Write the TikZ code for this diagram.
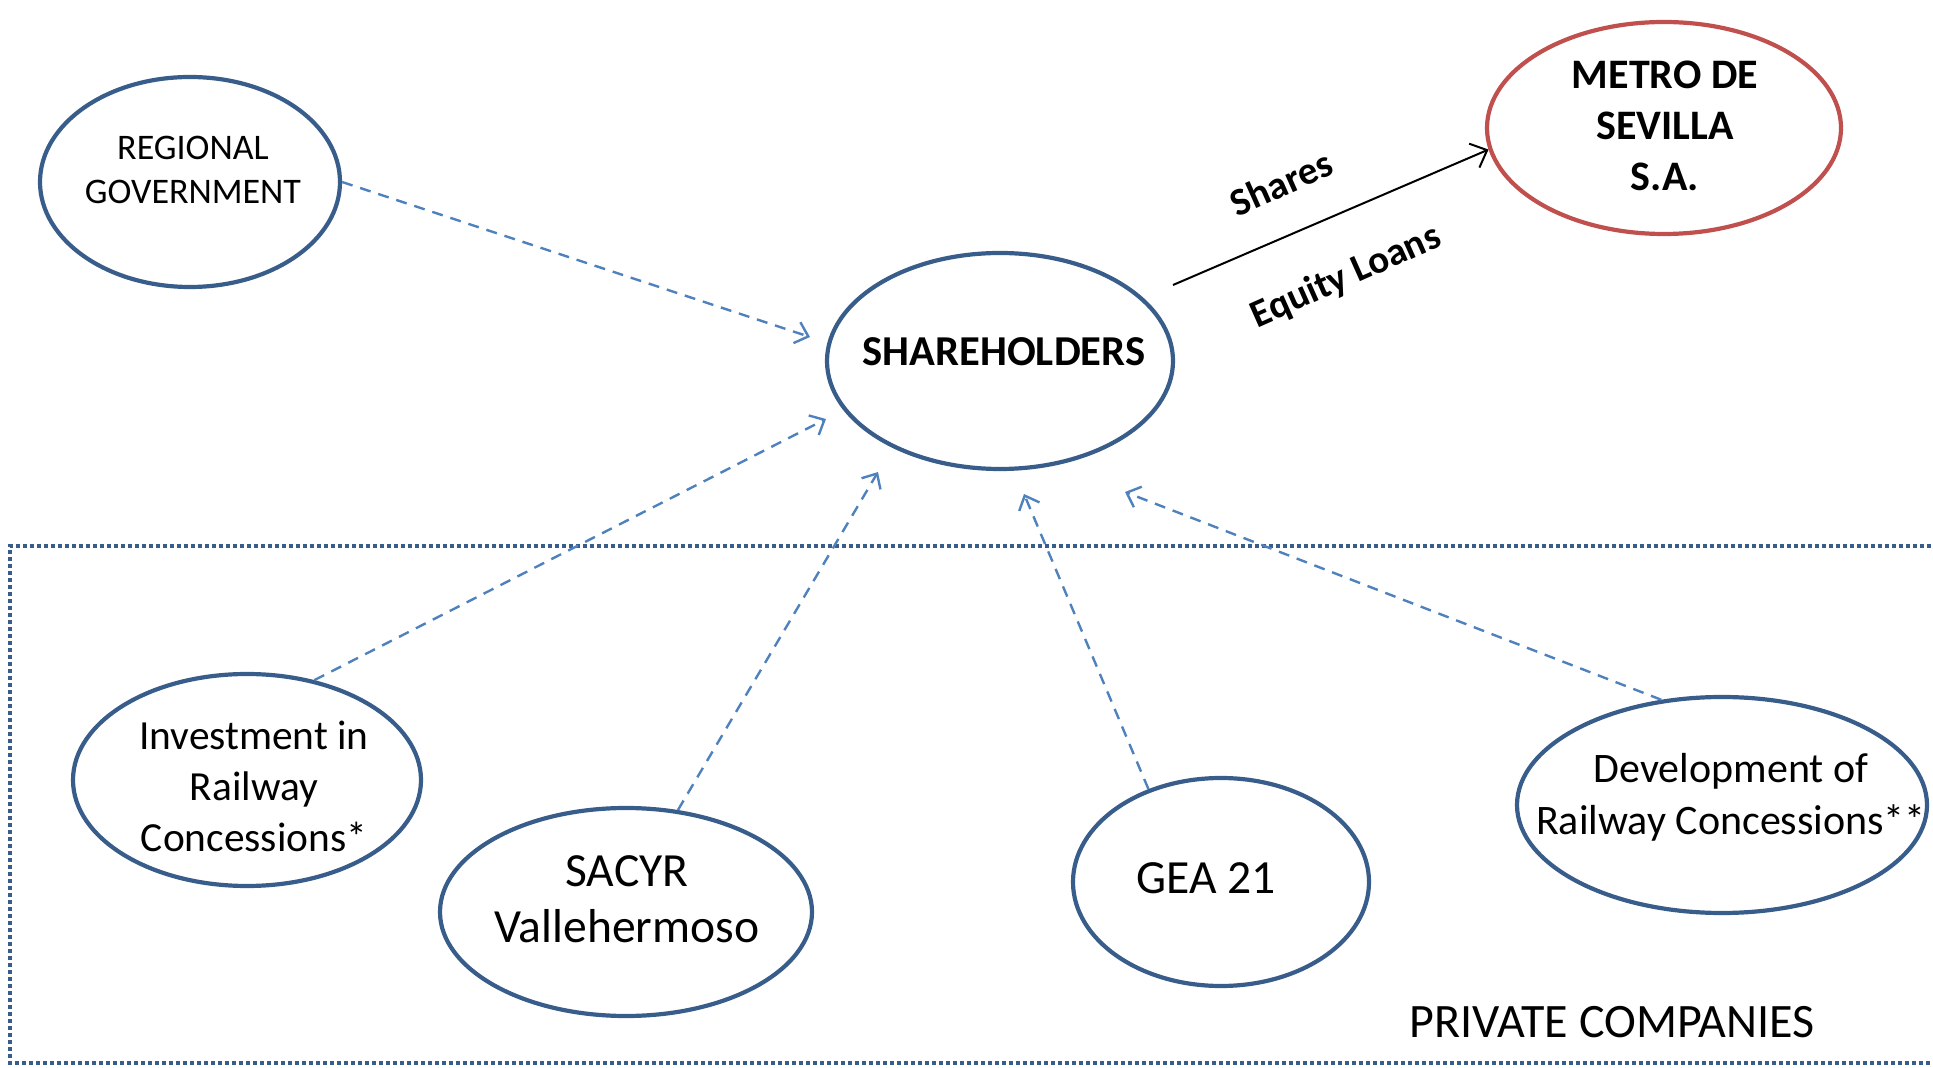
\documentclass[tikz,border=0pt]{standalone}
\usepackage{fontspec}
\setmainfont{Carlito}
\usetikzlibrary{arrows.meta,shapes.geometric}
\definecolor{ellblue}{HTML}{385D8A}
\definecolor{ellred}{HTML}{C0504D}
\definecolor{arrblue}{HTML}{4F81BD}
\begin{document}
\begin{tikzpicture}[x=0.5pt,y=-0.5pt,
  ell/.style={ellipse, draw=ellblue, line width=2.1pt, inner sep=0pt},
  lbl/.style={align=center, inner sep=0pt, text=black},
  dasharrow/.style={draw=arrblue, line width=1.2pt, dash pattern=on 5.5pt off 4pt,
     -{Straight Barb[length=6pt,width=11pt,line width=1.2pt]}},
  solidarrow/.style={draw=black, line width=1pt, -{Straight Barb[length=7pt,width=13pt,line width=1pt]}},
  frameline/.style={draw=ellblue, line width=1.8pt, dash pattern=on 2pt off 1.5pt}
]
\useasboundingbox (0,0) rectangle (1933,1068);

% frame of private companies
\draw[frameline] (1945,546) -- (10,546) -- (10,1063) -- (1945,1063);

% ellipses
\node[ell, minimum width=150pt, minimum height=105pt] (rg) at (190,182) {};
\node[ell, minimum width=173pt, minimum height=108pt] (sh) at (1000,361) {};
\node[ell, draw=ellred, minimum width=177pt, minimum height=106pt] (metro) at (1664,128) {};
\node[ell, minimum width=174pt, minimum height=106pt] (inv) at (247,780) {};
\node[ell, minimum width=186pt, minimum height=104pt] (sa) at (626,912) {};
\node[ell, minimum width=148pt, minimum height=104pt] (gea) at (1221,882) {};
\node[ell, minimum width=205pt, minimum height=108pt] (dev) at (1722,805) {};

% texts
\node[lbl, font=\fontsize{18pt}{21.75pt}\selectfont] (rgt) at (193,170) {REGIONAL\\GOVERNMENT};
\node[lbl, font=\bfseries\fontsize{21.3pt}{25.5pt}\selectfont] (sht) at (1004,352) {SHAREHOLDERS};
\node[lbl, font=\bfseries\fontsize{21pt}{25.5pt}\selectfont] (mt) at (1665,126) {METRO DE\\SEVILLA\\S.A.};
\node[lbl, font=\fontsize{20.7pt}{25.5pt}\selectfont] (invt) at (254,786) {Investment in\\Railway\\Concessions*};
\node[lbl, font=\fontsize{23.8pt}{28pt}\selectfont] (sat) at (627,899) {SACYR\\Vallehermoso};
\node[lbl, font=\fontsize{23.8pt}{28pt}\selectfont] (geat) at (1206,878) {GEA 21};
\node[lbl, font=\fontsize{21pt}{26pt}\selectfont] (devt) at (1731,797) {Development of\\Railway Concessions**};
\node[lbl, font=\fontsize{24pt}{28pt}\selectfont] (pc) at (1612,1022) {PRIVATE COMPANIES};

% arrow tips near shareholders
\coordinate (trg) at (810,337);
\coordinate (tinv) at (826,419);
\coordinate (tsa) at (878,472);
\coordinate (tgea) at (1024,494);
\coordinate (tdev) at (1125,492);
\coordinate (s0) at (1173,285);

\draw[dasharrow] (rg.east) -- (trg);
\draw[dasharrow] (inv.56) -- (tinv);
\draw[dasharrow] (sa.63) -- (tsa);
\draw[dasharrow] (gea.128) -- (tgea);
\draw[dasharrow] (dev.120) -- (tdev);

\draw[solidarrow] (s0) -- (metro.187);
\node[lbl, rotate=24, font=\bfseries\fontsize{19.5pt}{24pt}\selectfont] (shares) at (1281,183) {Shares};
\node[lbl, rotate=24, font=\bfseries\fontsize{19.5pt}{24pt}\selectfont] (eql) at (1346,277) {Equity Loans};
\end{tikzpicture}
\end{document}
